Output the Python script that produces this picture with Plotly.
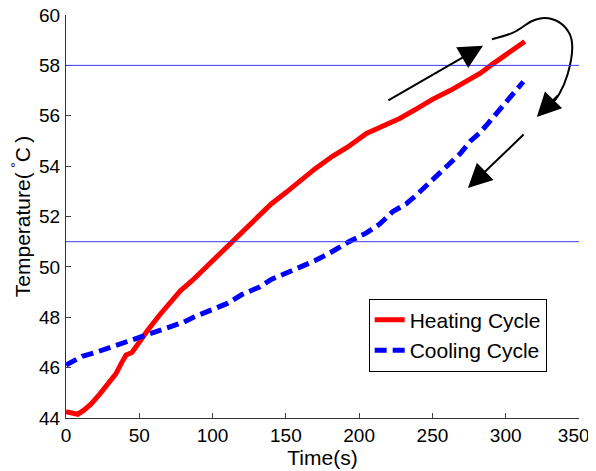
import plotly.graph_objects as go

# Heating cycle (time s, temperature C)
heat_t = [0, 3, 8, 12, 17, 23, 29, 34, 38, 41, 45, 50, 56, 64, 71, 78, 86, 93, 100, 107,
          114, 120, 126, 132, 140, 150, 160, 170, 182, 192, 205, 215, 228, 240, 250, 262,
          273, 283, 291, 300, 307, 313]
heat_T = [44.25, 44.2, 44.15, 44.3, 44.55, 44.95, 45.35, 45.75, 46.2, 46.5, 46.6, 47.05,
          47.5, 48.1, 48.6, 49.05, 49.45, 49.85, 50.2, 50.6, 51.0, 51.35, 51.7, 52.05, 52.5,
          52.95, 53.45, 53.9, 54.4, 54.75, 55.3, 55.55, 55.9, 56.3, 56.65, 57.0, 57.35, 57.7,
          58.05, 58.4, 58.7, 58.95]

# Cooling cycle
cool_t = [0, 5, 11, 20, 30, 40, 52, 60, 70, 80, 87, 100, 110, 120, 132, 140, 157, 170, 180,
          193, 205, 214, 223, 232, 239, 248, 255, 264, 269, 276, 282, 288, 294, 300, 306, 312]
cool_T = [46.1, 46.25, 46.45, 46.6, 46.8, 47.0, 47.25, 47.4, 47.6, 47.8, 48.0, 48.3, 48.55,
          48.9, 49.2, 49.5, 49.9, 50.25, 50.55, 51.0, 51.35, 51.7, 52.2, 52.5, 52.85, 53.35,
          53.7, 54.2, 54.5, 55.0, 55.3, 55.7, 56.1, 56.5, 56.9, 57.35]

# Reference horizontal lines
ref_levels = [58, 51]

x_ticks = [0, 50, 100, 150, 200, 250, 300, 350]
x_tick_labels = ["0", "50", "100", "150", "200", "250", "300", "350\u2007"]
y_ticks = [44, 46, 48, 50, 52, 54, 56, 58, 60]

# Annotation arrows (data coordinates): (tail_t, tail_T, head_t, head_T)
arrow_up = (218.9, 56.58, 284.5, 58.78)
arrow_down = (313.2, 55.31, 274.2, 53.13)
# curved arrow path
curve_t = [290.6, 305.0, 318.5, 326.5, 336.6, 343.6, 345.4, 342.3, 336.6, 329.7, 321.2]
curve_T = [59.04, 59.30, 59.77, 59.88, 59.71, 59.25, 58.72, 57.66, 56.87, 56.34, 55.95]

fig = go.Figure()
fig.add_trace(go.Scatter(x=heat_t, y=heat_T, mode="lines", name="Heating Cycle",
                         line=dict(color="#ff0000", width=5)))
fig.add_trace(go.Scatter(x=cool_t, y=cool_T, mode="lines", name="Cooling Cycle",
                         line=dict(color="#0000ff", width=5, dash="12px,6px")))
fig.add_trace(go.Scatter(x=curve_t[:-1], y=curve_T[:-1], mode="lines", showlegend=False,
                         hoverinfo="skip", line=dict(color="black", width=2, shape="spline")))

for lvl in ref_levels:
    fig.add_shape(type="line", xref="x", yref="y", x0=x_ticks[0], x1=x_ticks[-1], y0=lvl, y1=lvl,
                  line=dict(color="#3c3cff", width=1))

for (tx, ty, hx, hy) in [arrow_up, arrow_down, (curve_t[-3], curve_T[-3], curve_t[-1], curve_T[-1])]:
    fig.add_annotation(x=hx, y=hy, ax=tx, ay=ty, xref="x", yref="y", axref="x", ayref="y",
                       showarrow=True, arrowhead=2, arrowsize=2.4, arrowwidth=2,
                       arrowcolor="black", text="")

font_family = "Liberation Sans, Arial, sans-serif"
fig.update_layout(
    width=588, height=463,
    margin=dict(l=58, r=17, t=7, b=53),
    paper_bgcolor="white", plot_bgcolor="white",
    font=dict(family=font_family, size=19, color="black"),
    showlegend=True,
    legend=dict(x=0.59, y=0.296, xanchor="left", yanchor="top",
                bordercolor="black", borderwidth=1, bgcolor="white",
                font=dict(size=21)),
    xaxis=dict(range=[0, 350], tickvals=x_ticks, ticktext=x_tick_labels, ticks="inside",
               ticklen=5, automargin=False,
               ticklabelstandoff=0, ticklabeloverflow="allow",
               showline=True, linecolor="#333333", linewidth=1, showgrid=False, zeroline=False,
               title=dict(text="Time(s)", standoff=0, font=dict(size=21)), tickfont=dict(size=19)),
    yaxis=dict(range=[44, 60], tickvals=y_ticks, ticks="inside", ticklen=5, automargin=False,
               ticklabelstandoff=1, ticklabeloverflow="allow",
               showline=True, linecolor="#333333", linewidth=1, showgrid=False, zeroline=False,
               title=dict(text="Temperature(\u2009<sup>°</sup>C\u2009)", standoff=7, font=dict(size=21)),
               tickfont=dict(size=19)),
)

fig.write_html("out.html")
